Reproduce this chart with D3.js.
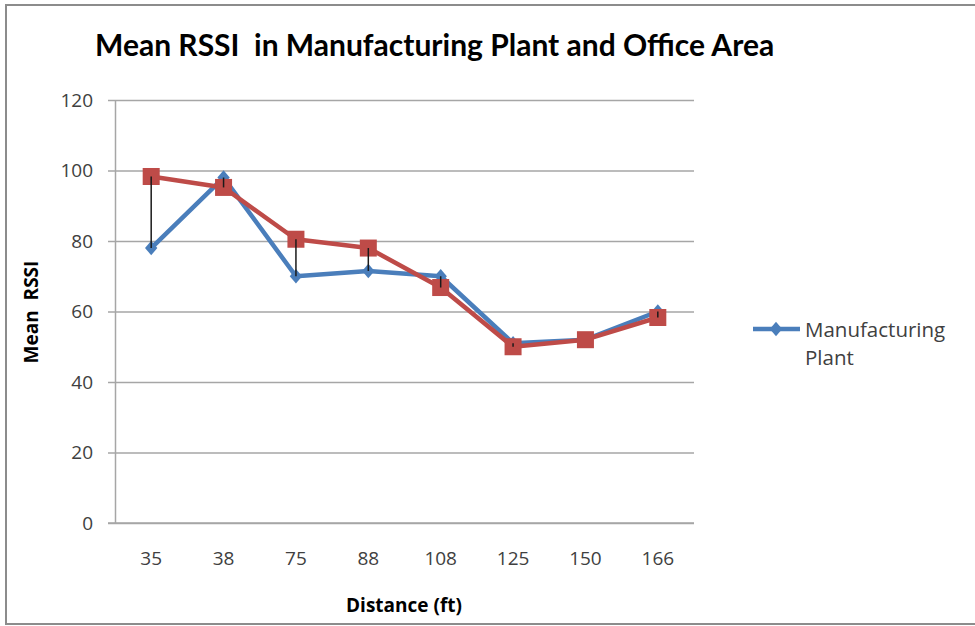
<!DOCTYPE html>
<html>
<head>
<meta charset="utf-8">
<script src="https://cdn.jsdelivr.net/npm/d3@7"></script>
<style>
  html, body { margin: 0; padding: 0; background: #fff; }
  svg { display: block; }
</style>
</head>
<body>
<svg id="chart" width="975" height="626"></svg>
<script>
const categories = ["35", "38", "75", "88", "108", "125", "150", "166"];
const manufacturingPlant = [78, 98, 70, 71.5, 70, 51, 52, 60];
const officeArea = [98.3, 95.2, 80.5, 78, 66.8, 50, 52, 58.3];
const yTicks = [0, 20, 40, 60, 80, 100, 120];
const titleText = "Mean RSSI  in Manufacturing Plant and Office Area";
const xTitle = "Distance (ft)";
const yTitle = "Mean  RSSI";
const legendLabel = ["Manufacturing", "Plant"];

const svg = d3.select("#chart");
const W = 975, H = 626;
const margin = { left: 115, right: 281, top: 100, bottom: 103 };

// frame
svg.append("rect").attr("x", 6).attr("y", 5).attr("width", W + 10).attr("height", 619)
  .attr("fill", "#fff").attr("stroke", "#8c8c8c").attr("stroke-width", 2);

const x = d3.scaleBand().domain(categories).range([margin.left, W - margin.right]);
const y = d3.scaleLinear().domain([0, 120]).range([H - margin.bottom, margin.top]);

const font = "'Open Sans', sans-serif";

const yAxis = d3.axisLeft(y).tickValues(yTicks).tickSize(-(W - margin.right - margin.left)).tickSizeOuter(0);
const gy = svg.append("g").attr("transform", `translate(${margin.left},0)`).call(yAxis);
gy.select(".domain").attr("stroke", "#a6a6a6").attr("stroke-width", 1.5);
gy.selectAll(".tick line").attr("stroke", "#a6a6a6").attr("stroke-width", 1.5).attr("x1", -7);
gy.selectAll(".tick text").attr("font-family", font).attr("font-size", 19).attr("fill", "#404040").attr("x", -22);

const xAxis = d3.axisBottom(x).tickSize(0).tickPadding(29);
const gx = svg.append("g").attr("transform", `translate(0,${H - margin.bottom})`).call(xAxis);
gx.select(".domain").attr("stroke", "#a6a6a6").attr("stroke-width", 1.5)
  .attr("d", `M${margin.left - 7},0H${W - margin.right}`);
gx.selectAll(".tick text").attr("font-family", font).attr("font-size", 19).attr("fill", "#404040");

const cx = d => x(d) + x.bandwidth() / 2;

const line = d3.line();

function drawSeries(vals, color) {
  svg.append("path")
    .attr("d", line(vals.map((v, i) => [cx(categories[i]), y(v)])))
    .attr("fill", "none").attr("stroke", color).attr("stroke-width", 4.5)
    .attr("stroke-linejoin", "round");
}
const diamond = d3.symbol(d3.symbolDiamond2, 120)();
drawSeries(manufacturingPlant, "#4a7ebb");
svg.append("g").selectAll("path").data(manufacturingPlant).join("path")
  .attr("d", diamond)
  .attr("transform", (d, i) => `translate(${cx(categories[i])},${y(d)}) scale(0.9,1.05)`)
  .attr("fill", "#4a7ebb");
drawSeries(officeArea, "#be4b48");
svg.append("g").selectAll("rect").data(officeArea).join("rect")
  .attr("x", (d, i) => cx(categories[i]) - 8.5).attr("y", d => y(d) - 8.5)
  .attr("width", 17).attr("height", 17).attr("fill", "#be4b48");

// high-low lines
svg.append("g").selectAll("line").data(categories).join("line")
  .attr("x1", d => cx(d)).attr("x2", d => cx(d))
  .attr("y1", (d, i) => y(Math.max(manufacturingPlant[i], officeArea[i])))
  .attr("y2", (d, i) => y(Math.min(manufacturingPlant[i], officeArea[i])))
  .attr("stroke", "#1a1a1a").attr("stroke-width", 1.5);

// title
svg.append("text").attr("x", 95).attr("y", 56)
  .attr("font-family", "Lato, sans-serif").attr("font-weight", "bold").attr("font-size", 30)
  .attr("fill", "#000").style("white-space", "pre")
  .text(titleText);

// axis titles
svg.append("text").attr("x", 404).attr("y", 612).attr("text-anchor", "middle")
  .attr("font-family", font).attr("font-weight", "bold").attr("font-size", 19).attr("fill", "#000")
  .text(xTitle);
svg.append("text").attr("transform", "translate(38,312) rotate(-90)").attr("text-anchor", "middle")
  .attr("font-family", font).attr("font-weight", "bold").attr("font-size", 19).attr("fill", "#000")
  .style("white-space", "pre").text(yTitle);

// legend
const lg = svg.append("g");
lg.append("line").attr("x1", 753).attr("x2", 800).attr("y1", 329).attr("y2", 329)
  .attr("stroke", "#4a7ebb").attr("stroke-width", 4.5);
lg.append("path").attr("d", diamond)
  .attr("transform", "translate(776,329) scale(0.9,1.05)").attr("fill", "#4a7ebb");
lg.selectAll("text").data(legendLabel).join("text")
  .attr("x", 805).attr("y", (d, i) => 337 + i * 28)
  .attr("font-family", font).attr("font-size", 20.5).attr("fill", "#404040")
  .text(d => d);
</script>
</body>
</html>
